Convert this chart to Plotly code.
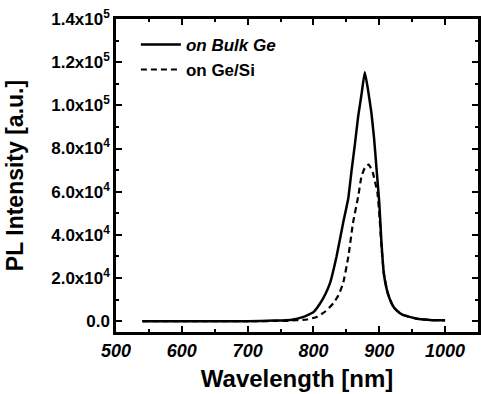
import plotly.graph_objects as go

wl_bulk = [540, 600, 650, 700, 740, 765, 785, 800, 810, 818, 825, 835, 845, 853, 858, 863, 868, 873, 878,
           883, 888, 892, 896, 900, 903, 907, 913, 920, 926, 935, 946, 960, 980, 1000]
pl_bulk = [0, 0, 0, 0, 300, 600, 2000, 4200, 8200, 12500, 17500, 29900, 45400, 57100, 70000, 82000, 95000, 105000, 115300,
           107000, 96600, 85000, 70000, 55000, 38000, 22000, 12900, 7500, 5100, 3000, 2000, 1000, 500, 400]

wl_gesi = [540, 600, 700, 760, 790, 805, 818, 830, 838, 845, 853, 860, 868, 873, 878, 884, 890, 894, 897,
           900, 903, 907, 913, 920, 926, 935, 946, 960, 980, 1000]
pl_gesi = [0, 0, 0, 200, 800, 2000, 4500, 8200, 12000, 17500, 29900, 45400, 57800, 67100, 71000, 72600, 69000, 64000, 60000,
           50000, 36000, 22000, 12900, 7500, 5100, 3000, 2000, 1000, 500, 400]

x_ticks = [500, 600, 700, 800, 900, 1000]
y_ticks = [0, 20000, 40000, 60000, 80000, 100000, 120000, 140000]
y_ticktext = ["<b>0.0</b>", "<b>2.0x10<sup>4</sup></b>", "<b>4.0x10<sup>4</sup></b>", "<b>6.0x10<sup>4</sup></b>",
              "<b>8.0x10<sup>4</sup></b>", "<b>1.0x10<sup>5</sup></b>", "<b>1.2x10<sup>5</sup></b>",
              "<b>1.4x10<sup>5</sup></b>"]
x_ticktext = ["<b><i>%d</i></b>" % v for v in x_ticks]

fig = go.Figure()
fig.add_trace(go.Scatter(x=wl_bulk, y=pl_bulk, mode="lines", name="<b><i>on Bulk Ge</i></b>",
                         line=dict(color="black", width=2.5, shape="spline", smoothing=0.4)))
fig.add_trace(go.Scatter(x=wl_gesi, y=pl_gesi, mode="lines", name="<b>on Ge/Si</b>",
                         line=dict(color="black", width=2.2, dash="6px,4px", shape="spline", smoothing=0.4)))

font = "Liberation Sans, Arial, sans-serif"
axis_common = dict(showline=True, linecolor="black", linewidth=2.5, mirror="ticks",
                   ticks="inside", ticklen=6, tickwidth=2, tickcolor="black",
                   showgrid=False, zeroline=False, automargin=False)

fig.update_xaxes(range=[500, 1050], tickvals=x_ticks, ticktext=x_ticktext,
                 tickfont=dict(family=font, size=18, color="black"), ticklabelstandoff=1,
                 minor=dict(ticks="inside", ticklen=3, tickwidth=1.5, tickcolor="black", dtick=50, tick0=500),
                 title=dict(text="<b>Wavelength [nm]</b>", font=dict(family=font, size=24, color="black"), standoff=10),
                 **axis_common)
fig.update_yaxes(range=[-5000, 140000], tickvals=y_ticks, ticktext=y_ticktext,
                 tickfont=dict(family=font, size=17, color="black"), ticklabelstandoff=0,
                 minor=dict(ticks="inside", ticklen=3, tickwidth=1.5, tickcolor="black", dtick=10000, tick0=0),
                 title=dict(text="<b>PL Intensity [a.u.]</b>", font=dict(family=font, size=23, color="black"), standoff=22),
                 **axis_common)

fig.update_layout(width=481, height=394, margin=dict(l=116, r=3, t=19, b=62),
                  paper_bgcolor="white", plot_bgcolor="white",
                  font=dict(family=font, color="black"),
                  legend=dict(x=0.055, y=0.975, xanchor="left", yanchor="top", bgcolor="rgba(0,0,0,0)",
                              font=dict(family=font, size=17, color="black"), tracegroupgap=0, itemwidth=40))

fig.write_html("out.html", config={"displayModeBar": False},
               post_script="document.body.style.margin='0';document.body.style.overflow='hidden';")
